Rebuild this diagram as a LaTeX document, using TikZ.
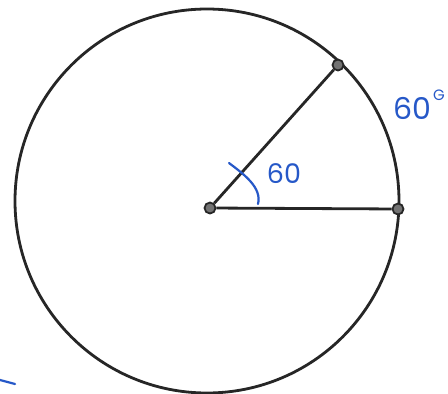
\documentclass[tikz,border=0pt]{standalone}
\usepackage{fontspec}
\newfontfamily\handfont{Poppins}
\definecolor{pen}{RGB}{38,88,200}
\begin{document}
\begin{tikzpicture}[x=1pt,y=-1pt,
  ink/.style={draw=black!85,line width=2.8pt},
  dot/.style={circle,fill=black!55,draw=black!85,line width=1.8pt,inner sep=0pt,minimum size=11pt},
  blueink/.style={draw=pen,line width=2.2pt,line cap=round},
  bluetext/.style={text=pen,inner sep=0pt}]
\useasboundingbox (0,0) rectangle (448,394);
\clip (0,0) rectangle (448,394);
\fill[white] (0,0) rectangle (448,394);
\coordinate (c0) at (207,201);
\draw[ink] (c0) circle[radius=192];
\node[dot] (O) at (210,208) {};
\node[dot] (A) at (338,65) {};
\node[dot] (B) at (398,209) {};
\draw[ink] (O) -- (A);
\draw[ink] (O) -- (B);
\draw[blueink] (229,163) .. controls (245,175) and (262,188) .. (258,204);
\draw[blueink] (0,380) -- (15,384);
\node[bluetext,font=\handfont\fontsize{27}{27}\selectfont,anchor=center] (lab1) at (284,174) {60};
\node[bluetext,font=\handfont\fontsize{30}{30}\selectfont,anchor=west] (lab2) at (393,108) {60};
\node[bluetext,font=\handfont\fontsize{15}{15}\selectfont,anchor=west] (lab3) at (433,95) {G};
\end{tikzpicture}
\end{document}
